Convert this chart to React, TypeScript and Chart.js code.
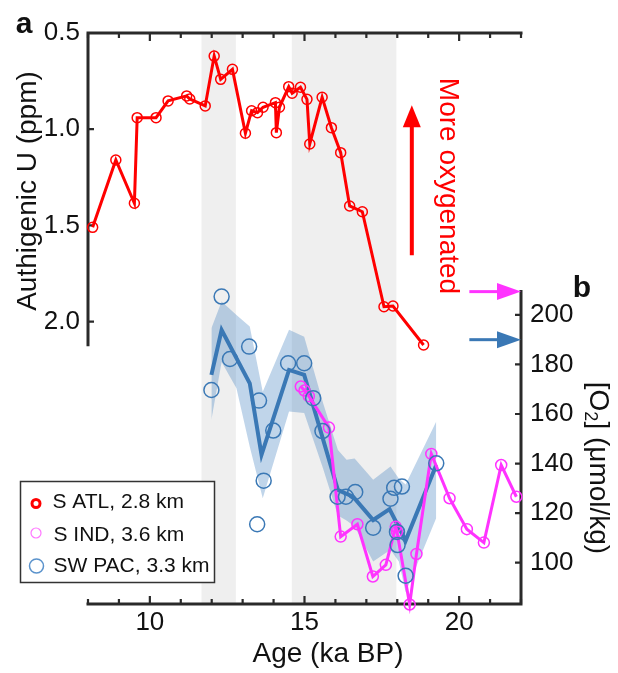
import React, { useEffect, useRef } from 'react';
import { Chart, registerables } from 'chart.js';

Chart.register(...registerables);

// ---- Data ----
// (a) S ATL, 2.8 km: authigenic U (ppm)
const redAge = [8.15, 8.9, 9.5, 9.59, 10.2, 10.59, 11.19, 11.29, 11.79, 12.08, 12.29, 12.67, 13.09, 13.29, 13.48, 13.66, 14.06, 14.09, 14.19, 14.49, 14.6, 14.87, 15.08, 15.17, 15.57, 15.87, 16.17, 16.46, 16.87, 17.57, 17.86, 18.85];
const redU = [1.51, 1.16, 1.385, 0.94, 0.94, 0.853, 0.827, 0.843, 0.879, 0.62, 0.741, 0.689, 1.021, 0.904, 0.914, 0.886, 0.862, 1.018, 0.886, 0.779, 0.813, 0.782, 0.845, 1.077, 0.834, 0.992, 1.122, 1.399, 1.429, 1.923, 1.919, 2.122];

// (b) S IND, 3.6 km: [O2] (umol/kg)
const indAge = [14.88, 15.0, 15.14, 15.79, 16.17, 16.71, 17.21, 17.63, 17.95, 17.99, 18.4, 18.62, 19.1, 19.69, 20.25, 20.8, 21.36, 21.85];
const indO2 = [171.1, 169.5, 167.2, 154.5, 110.5, 115.5, 94.4, 99.1, 114.5, 112.5, 83.1, 103.5, 143.9, 126, 113.5, 108.1, 139.4, 126.6];

// (b) SW PAC, 3.3 km: individual estimates
const pacAge = [11.99, 12.32, 12.59, 13.21, 13.53, 13.99, 13.68, 13.47, 14.47, 14.99, 15.28, 15.58, 16.07, 16.34, 16.64, 17.22, 17.78, 17.9, 18.15, 17.99, 18.01, 18.27, 19.26];
const pacO2 = [169.7, 207.4, 182.2, 187.2, 165.4, 153.3, 133.1, 115.5, 180.5, 180.5, 166.4, 153.1, 126.6, 126.6, 128.5, 114.1, 125.8, 130.2, 130.7, 112.4, 107.1, 94.7, 140.1];

// SW PAC smoothed mean
const pacMeanAge = [11.99, 12.32, 13.23, 13.61, 14.5, 14.99, 16.08, 16.57, 17.22, 17.75, 18.27, 19.26];
const pacMeanO2 = [175.8, 193.9, 172.4, 143.5, 177.8, 175.8, 129.3, 126.6, 117.2, 121.6, 108.9, 139.4];

// SW PAC uncertainty envelope
const bandAge = [11.99, 12.32, 12.8, 13.23, 13.65, 14.5, 14.99, 15.6, 16.08, 16.36, 16.62, 17.22, 17.78, 18.05, 18.27, 19.26];
const bandUpper = [194.6, 205.4, 200.0, 195.3, 169.0, 194.0, 191.2, 164.4, 145.5, 141.5, 142.0, 133.5, 138.8, 134.0, 131.5, 157.0];
const bandLower = [157.7, 181.0, 170.4, 146.8, 126.0, 161.0, 160.4, 138.0, 119.0, 117.0, 114.6, 100.5, 105.2, 100.5, 88.0, 118.0];

// shaded intervals (ka BP)
const shadedStart = [11.67, 14.59];
const shadedEnd = [12.78, 17.97];

// ticks
const xMinorTicks = [8, 9, 10, 11, 12, 13, 14, 15, 16, 17, 18, 19, 20, 21, 22];
const xLabelTicks = [10, 15, 20];
const uTicks = [0.5, 1.0, 1.5, 2.0];
const uTickLabels = ['0.5', '1.0', '1.5', '2.0'];
const o2Ticks = [100, 120, 140, 160, 180, 200];
const o2TickLabels = ['100', '120', '140', '160', '180', '200'];

// axis extents
const X_MIN = 8;
const X_MAX = 22;
const U_MIN = 0.5;
const U_MAX = 3.468;
const U_AXIS_END = 2.12;
const O2_MIN = 83.3;
const O2_MAX = 313.8;
const O2_AXIS_TOP = 209.4;

// annotation arrows
const oxyArrowAge = 18.47;
const oxyArrowFromU = 1.655;
const oxyArrowToU = 0.875;
const indArrowO2 = 209.4;
const pacArrowO2 = 190;
const sideArrowStartAge = 20.33;

const FONT = '"Liberation Sans", Arial, Helvetica, sans-serif';
const RED = '#ff0000';
const MAGENTA = '#ff33ff';
const BLUE = '#3a78b5';
const AXIS = '#2a2a2a';

const pts = (xs: number[], ys: number[]) => xs.map((x, i) => ({ x, y: ys[i] }));

export default function App() {
  const ref = useRef<HTMLCanvasElement>(null);

  useEffect(() => {
    const canvas = ref.current;
    if (!canvas) return;

    const decor = {
      id: 'decor',
      beforeDatasetsDraw(chart: any) {
        const { ctx, chartArea: a, scales } = chart;
        const sx = scales.x;
        const sU = scales.yU;
        const sO = scales.yO;
        ctx.save();
        // shaded intervals
        ctx.fillStyle = '#efefef';
        for (let i = 0; i < shadedStart.length; i++) {
          const x0 = sx.getPixelForValue(shadedStart[i]);
          const x1 = sx.getPixelForValue(shadedEnd[i]);
          ctx.fillRect(x0, a.top, x1 - x0, a.bottom - a.top);
        }
        // axes lines
        ctx.strokeStyle = AXIS;
        ctx.lineWidth = 3;
        ctx.lineCap = 'square';
        ctx.beginPath();
        ctx.moveTo(a.left, a.top);
        ctx.lineTo(a.right, a.top);
        ctx.moveTo(a.left, a.bottom);
        ctx.lineTo(a.right, a.bottom);
        ctx.moveTo(a.left, sU.getPixelForValue(U_MIN));
        ctx.lineTo(a.left, sU.getPixelForValue(U_AXIS_END));
        ctx.moveTo(a.right, sO.getPixelForValue(O2_AXIS_TOP));
        ctx.lineTo(a.right, a.bottom);
        ctx.stroke();
        // ticks
        ctx.lineWidth = 2.2;
        ctx.lineCap = 'butt';
        ctx.beginPath();
        for (const v of xMinorTicks) {
          const px = sx.getPixelForValue(v);
          const len = xLabelTicks.includes(v) ? 8 : 5;
          ctx.moveTo(px, a.top);
          ctx.lineTo(px, a.top + len);
          ctx.moveTo(px, a.bottom);
          ctx.lineTo(px, a.bottom - len);
        }
        for (const v of uTicks) {
          const py = sU.getPixelForValue(v);
          ctx.moveTo(a.left, py);
          ctx.lineTo(a.left + 6, py);
        }
        for (const v of o2Ticks) {
          const py = sO.getPixelForValue(v);
          ctx.moveTo(a.right, py);
          ctx.lineTo(a.right - 6, py);
        }
        ctx.stroke();
        ctx.restore();
      },
      afterDatasetsDraw(chart: any) {
        const { ctx, chartArea: a, scales } = chart;
        const sx = scales.x;
        const sU = scales.yU;
        const sO = scales.yO;
        ctx.save();
        ctx.fillStyle = '#111';
        // tick labels
        ctx.font = `26px ${FONT}`;
        ctx.textAlign = 'right';
        ctx.textBaseline = 'middle';
        uTicks.forEach((v, i) => ctx.fillText(uTickLabels[i], a.left - 8, sU.getPixelForValue(v)));
        ctx.textAlign = 'left';
        o2Ticks.forEach((v, i) => ctx.fillText(o2TickLabels[i], a.right + 9, sO.getPixelForValue(v)));
        ctx.textAlign = 'center';
        ctx.textBaseline = 'alphabetic';
        xLabelTicks.forEach((v) => ctx.fillText(String(v), sx.getPixelForValue(v), a.bottom + 26));

        // axis titles
        ctx.font = `28px ${FONT}`;
        ctx.fillText('Age (ka BP)', 328, 662);

        ctx.save();
        ctx.translate(28, 191);
        ctx.rotate(-Math.PI / 2);
        ctx.textAlign = 'center';
        ctx.textBaseline = 'middle';
        ctx.fillText('Authigenic U (ppm)', 0, 0);
        ctx.restore();

        // right title with subscript
        ctx.save();
        ctx.translate(598, 468);
        ctx.rotate(Math.PI / 2);
        ctx.textBaseline = 'middle';
        ctx.textAlign = 'left';
        const p1 = '[O';
        const p3 = '] (\u03bcmol/kg)';
        ctx.font = `28px ${FONT}`;
        const w1 = ctx.measureText(p1).width;
        const w3 = ctx.measureText(p3).width;
        ctx.font = `18px ${FONT}`;
        const w2 = ctx.measureText('2').width;
        const total = w1 + w2 + w3;
        let cx = -total / 2;
        ctx.font = `28px ${FONT}`;
        ctx.fillText(p1, cx, 0);
        cx += w1;
        ctx.font = `18px ${FONT}`;
        ctx.fillText('2', cx, 8);
        cx += w2;
        ctx.font = `28px ${FONT}`;
        ctx.fillText(p3, cx, 0);
        ctx.restore();

        // panel letters
        ctx.font = `bold 30px ${FONT}`;
        ctx.textAlign = 'center';
        ctx.textBaseline = 'alphabetic';
        ctx.fillText('a', 24, 33);
        ctx.fillText('b', 582, 297);

        // "More oxygenated" arrow + label
        const ax = sx.getPixelForValue(oxyArrowAge);
        const ay0 = sU.getPixelForValue(oxyArrowFromU);
        const ay1 = sU.getPixelForValue(oxyArrowToU);
        ctx.strokeStyle = RED;
        ctx.fillStyle = RED;
        ctx.lineWidth = 4;
        ctx.beginPath();
        ctx.moveTo(ax, ay0);
        ctx.lineTo(ax, ay1 + 18);
        ctx.stroke();
        ctx.beginPath();
        ctx.moveTo(ax, ay1);
        ctx.lineTo(ax - 9, ay1 + 22);
        ctx.lineTo(ax + 9, ay1 + 22);
        ctx.closePath();
        ctx.fill();

        ctx.save();
        ctx.translate(448, 186);
        ctx.rotate(Math.PI / 2);
        ctx.font = `28px ${FONT}`;
        ctx.textAlign = 'center';
        ctx.textBaseline = 'middle';
        ctx.fillText('More oxygenated', 0, 0);
        ctx.restore();

        // side arrows pointing at the O2 axis
        const drawSideArrow = (yVal: number, color: string) => {
          const y = sO.getPixelForValue(yVal);
          const x0 = sx.getPixelForValue(sideArrowStartAge);
          const x1 = a.right;
          ctx.strokeStyle = color;
          ctx.fillStyle = color;
          ctx.lineWidth = 3;
          ctx.beginPath();
          ctx.moveTo(x0, y);
          ctx.lineTo(x1 - 20, y);
          ctx.stroke();
          ctx.beginPath();
          ctx.moveTo(x1, y);
          ctx.lineTo(x1 - 24, y - 8.5);
          ctx.lineTo(x1 - 24, y + 8.5);
          ctx.closePath();
          ctx.fill();
        };
        drawSideArrow(indArrowO2, MAGENTA);
        drawSideArrow(pacArrowO2, BLUE);

        // legend
        ctx.fillStyle = '#ffffff';
        ctx.fillRect(20.5, 481.5, 194, 101);
        ctx.strokeStyle = '#333';
        ctx.lineWidth = 1.5;
        ctx.strokeRect(20.5, 481.5, 194, 101);

        ctx.lineWidth = 3;
        ctx.strokeStyle = RED;
        ctx.beginPath();
        ctx.arc(36, 503.5, 4, 0, Math.PI * 2);
        ctx.stroke();
        ctx.lineWidth = 1.2;
        ctx.strokeStyle = '#ff77ff';
        ctx.beginPath();
        ctx.arc(36, 533, 5, 0, Math.PI * 2);
        ctx.stroke();
        ctx.lineWidth = 1.5;
        ctx.strokeStyle = '#5b93cc';
        ctx.beginPath();
        ctx.arc(36.5, 566, 7, 0, Math.PI * 2);
        ctx.stroke();

        ctx.fillStyle = '#111';
        ctx.font = `21px ${FONT}`;
        ctx.textAlign = 'left';
        ctx.textBaseline = 'alphabetic';
        ctx.fillText('S ATL, 2.8 km', 52.5, 507.5);
        ctx.fillText('S IND, 3.6 km', 53.5, 540.5);
        ctx.fillText('SW PAC, 3.3 km', 53.5, 571.5);
        ctx.restore();
      },
    };

    const chart = new Chart(canvas, {
      type: 'line',
      data: {
        datasets: [
          {
            label: 'SW PAC upper',
            data: pts(bandAge, bandUpper),
            yAxisID: 'yO',
            borderWidth: 0,
            borderColor: 'rgba(0,0,0,0)',
            pointRadius: 0,
            fill: '+1',
            backgroundColor: 'rgba(60,125,190,0.32)',
            order: 10,
          },
          {
            label: 'SW PAC lower',
            data: pts(bandAge, bandLower),
            yAxisID: 'yO',
            borderWidth: 0,
            borderColor: 'rgba(0,0,0,0)',
            pointRadius: 0,
            fill: false,
            order: 11,
          },
          {
            label: 'SW PAC mean',
            data: pts(pacMeanAge, pacMeanO2),
            yAxisID: 'yO',
            borderColor: BLUE,
            borderWidth: 4,
            pointRadius: 0,
            fill: false,
            order: 7,
          },
          {
            label: 'S IND, 3.6 km',
            data: pts(indAge, indO2),
            yAxisID: 'yO',
            borderColor: MAGENTA,
            borderWidth: 3,
            pointRadius: 5.5,
            pointBorderWidth: 1.5,
            pointBorderColor: MAGENTA,
            pointBackgroundColor: 'rgba(0,0,0,0)',
            fill: false,
            clip: false,
            order: 6,
          },
          {
            label: 'SW PAC, 3.3 km',
            data: pts(pacAge, pacO2),
            yAxisID: 'yO',
            showLine: false,
            borderColor: BLUE,
            pointRadius: 7.5,
            pointBorderWidth: 1.5,
            pointBorderColor: BLUE,
            pointBackgroundColor: 'rgba(0,0,0,0)',
            fill: false,
            order: 5,
          },
          {
            label: 'S ATL, 2.8 km',
            data: pts(redAge, redU),
            yAxisID: 'yU',
            borderColor: RED,
            borderWidth: 3,
            pointRadius: 5,
            pointBorderWidth: 1.5,
            pointBorderColor: RED,
            pointBackgroundColor: 'rgba(0,0,0,0)',
            fill: false,
            clip: false,
            order: 1,
          },
        ],
      } as any,
      options: {
        animation: false,
        responsive: false,
        devicePixelRatio: 1,
        events: [],
        layout: { padding: { left: 88, right: 97, top: 33, bottom: 69 } },
        elements: { line: { tension: 0 } },
        plugins: {
          legend: { display: false },
          tooltip: { enabled: false },
        },
        scales: {
          x: { type: 'linear', min: X_MIN, max: X_MAX, display: false },
          yU: { type: 'linear', reverse: true, min: U_MIN, max: U_MAX, display: false },
          yO: { type: 'linear', min: O2_MIN, max: O2_MAX, display: false },
        },
      } as any,
      plugins: [decor],
    });

    return () => chart.destroy();
  }, []);

  return (
    <div style={{ position: 'fixed', left: 0, top: 0, width: 618, height: 673, background: '#ffffff' }}>
      <canvas ref={ref} width={618} height={673} style={{ display: 'block', width: 618, height: 673 }} />
    </div>
  );
}
